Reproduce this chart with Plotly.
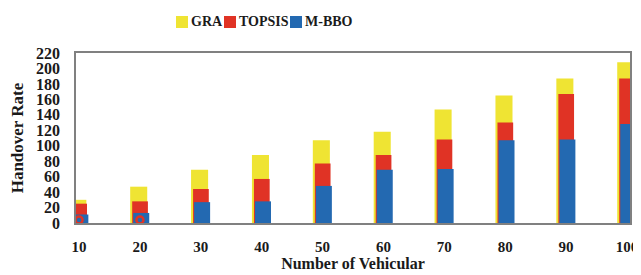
import plotly.graph_objects as go

vehicles = [10, 20, 30, 40, 50, 60, 70, 80, 90, 100]
gra = [30, 47, 69, 88, 107, 118, 147, 165, 187, 208]
topsis = [25, 28, 44, 57, 77, 88, 108, 130, 167, 187]
mbbo = [11, 13, 27, 28, 48, 69, 70, 107, 108, 128]
marker_x = [10, 20]
marker_y = [4, 4]
y_ticks = list(range(0, 221, 20))
series_names = ["GRA", "TOPSIS", "M-BBO"]

YELLOW = "#EFE433"
RED = "#E03325"
BLUE = "#2369B1"
colors = [YELLOW, RED, BLUE]
FONT = "Liberation Serif"
TXT = "#1a1a1a"

fig = go.Figure()
fig.add_trace(go.Bar(x=vehicles, y=gra, name="GRA", marker_color=YELLOW,
                     width=2.8, offset=-1.6, marker_line_width=0))
fig.add_trace(go.Bar(x=vehicles, y=topsis, name="TOPSIS", marker_color=RED,
                     width=2.58, offset=-1.27, marker_line_width=0))
fig.add_trace(go.Bar(x=vehicles, y=mbbo, name="M-BBO", marker_color=BLUE,
                     width=2.63, offset=-1.1, marker_line_width=0))
fig.add_trace(go.Scatter(x=marker_x, y=marker_y, mode="markers", showlegend=False,
                         marker=dict(symbol="circle-open", size=7, color=RED,
                                     line=dict(width=2.5, color=RED))))

# custom compact legend (swatch + label), placed above the plot area
plot_l, plot_w, plot_b, plot_h = 76, 554, 223, 170   # in page pixels
swatch_left_px = [176, 224, 290]
def px2x(px):
    return (px - plot_l) / plot_w
def py2y(py):
    return (plot_b - py) / plot_h
for name, col, sx in zip(series_names, colors, swatch_left_px):
    fig.add_shape(type="rect", xref="paper", yref="paper",
                  x0=px2x(sx), x1=px2x(sx + 12), y0=py2y(28), y1=py2y(16),
                  fillcolor=col, line_width=0)
    fig.add_annotation(xref="paper", yref="paper", x=px2x(sx + 13), y=py2y(22),
                       xanchor="left", yanchor="middle", showarrow=False,
                       text=f"<b>{name}</b>",
                       font=dict(family=FONT, size=14, color=TXT))

# page body has an 8px margin, so the figure margins compensate for the offset
fig.update_layout(
    width=641, height=275,
    margin=dict(l=68, r=19, t=45, b=60, autoexpand=False),
    barmode="overlay",
    showlegend=False,
    plot_bgcolor="white", paper_bgcolor="white",
    font=dict(family=FONT, size=16, color=TXT),
)
fig.update_xaxes(range=[9.5, 100.5], tickvals=vehicles, ticktext=[str(v) for v in vehicles],
                 automargin=False,
                 showgrid=False, zeroline=False, showline=True, linecolor="#808080",
                 linewidth=1.5, mirror=True, ticks="", ticklabelstandoff=9,
                 tickfont=dict(family=FONT, size=15, weight="bold", color=TXT),
                 title=dict(text="<b>Number of Vehicular</b>", standoff=3,
                            font=dict(family=FONT, size=16, color=TXT)))
fig.update_yaxes(range=[0, 220], tickvals=y_ticks, showgrid=False, zeroline=False,
                 automargin=False,
                 showline=True, linecolor="#808080", linewidth=1.5, mirror=True,
                 ticks="", ticklabelstandoff=11,
                 tickfont=dict(family=FONT, size=16, weight="bold", color=TXT),
                 title=dict(text="<b>Handover Rate</b>", standoff=12,
                            font=dict(family=FONT, size=17, color=TXT)))

fig.write_html("out.html")
